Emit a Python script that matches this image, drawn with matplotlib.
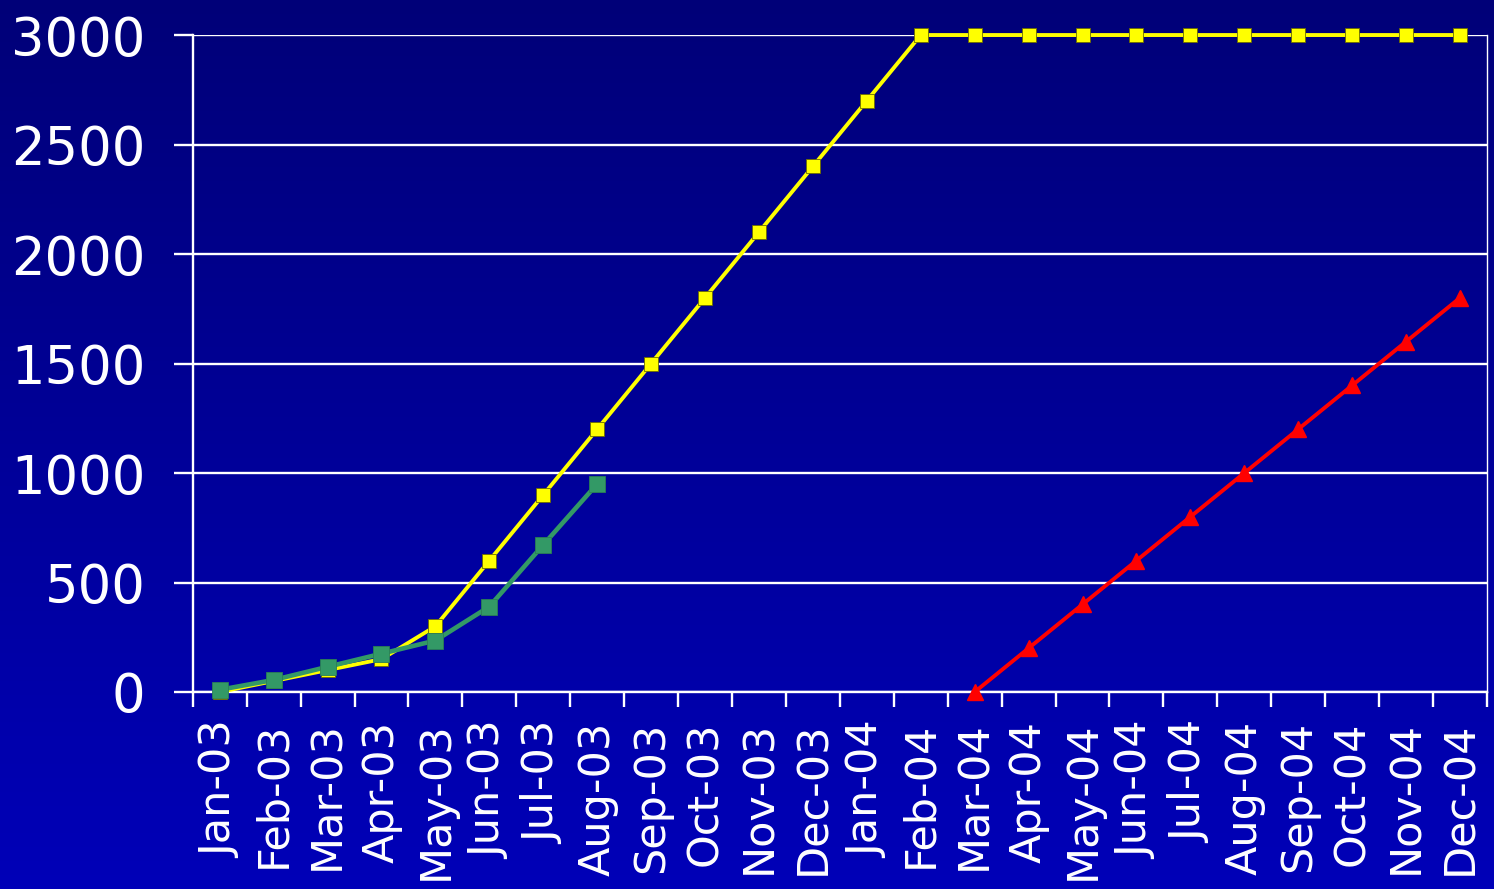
import numpy as np
import matplotlib
matplotlib.use("Agg")
import matplotlib.pyplot as plt
from matplotlib.colors import LinearSegmentedColormap

months = ["Jan-03", "Feb-03", "Mar-03", "Apr-03", "May-03", "Jun-03", "Jul-03", "Aug-03",
          "Sep-03", "Oct-03", "Nov-03", "Dec-03", "Jan-04", "Feb-04", "Mar-04", "Apr-04",
          "May-04", "Jun-04", "Jul-04", "Aug-04", "Sep-04", "Oct-04", "Nov-04", "Dec-04"]

# planned (yellow), actual (green), second phase (red)
planned = [0, 50, 100, 150, 300, 600, 900, 1200, 1500, 1800, 2100, 2400, 2700, 3000,
           3000, 3000, 3000, 3000, 3000, 3000, 3000, 3000, 3000, 3000]
actual = [10, 55, 115, 175, 235, 390, 672, 950]
phase2 = [0, 200, 400, 600, 800, 1000, 1200, 1400, 1600, 1800]
phase2_start = 14

yticks = [0, 500, 1000, 1500, 2000, 2500, 3000]

fig = plt.figure(figsize=(14.94, 8.89), dpi=100)

# background gradient, dark navy at top to brighter blue at bottom
bg = fig.add_axes([0, 0, 1, 1], zorder=-10)
cmap = LinearSegmentedColormap.from_list("bg", ["#000078", "#0000B8"])
bg.imshow(np.linspace(0, 1, 256).reshape(-1, 1), aspect="auto", cmap=cmap,
          extent=[0, 1, 0, 1])
bg.set_axis_off()

ax = fig.add_axes([0.129, 0.2216, 0.8663, 0.739])
ax.patch.set_alpha(0)

x = np.arange(len(months))
ax.plot(x, planned, color="#FFFF00", lw=2.8, marker="s", ms=10.5,
        mec="#6B6B00", mew=0.6, zorder=3, clip_on=False)
ax.plot(x[:len(actual)], actual, color="#339966", lw=3.3, marker="s", ms=11,
        mec="#2A7F55", mew=0.6, zorder=4, clip_on=False)
ax.plot(x[phase2_start:phase2_start + len(phase2)], phase2, color="#FF0000", lw=2.8,
        marker="^", ms=11, zorder=5, clip_on=False)

ax.set_xlim(-0.5, len(months) - 0.5)
ax.set_ylim(0, 3000)
ax.set_yticks(yticks)
ax.set_yticklabels([str(v) for v in yticks])
ax.set_xticks(x)
ax.set_xticklabels(months, rotation=90)
ax.set_xticks(np.arange(-0.5, len(months), 1), minor=True)

ax.grid(axis="y", color="white", lw=1.7, zorder=1)
ax.tick_params(axis="y", direction="out", length=14, width=1.7, color="white",
               labelcolor="white", labelsize=38, pad=20)
ax.tick_params(axis="x", which="major", length=0, labelcolor="white", labelsize=31, pad=21)
ax.tick_params(axis="x", which="minor", direction="out", length=11, width=1.7, color="white")

for side in ["left", "right", "bottom"]:
    ax.spines[side].set_color("white")
    ax.spines[side].set_linewidth(1.7)
ax.spines["top"].set_visible(False)
ax.spines["right"].set_linewidth(1.0)

fig.savefig("out.png", dpi=100)
